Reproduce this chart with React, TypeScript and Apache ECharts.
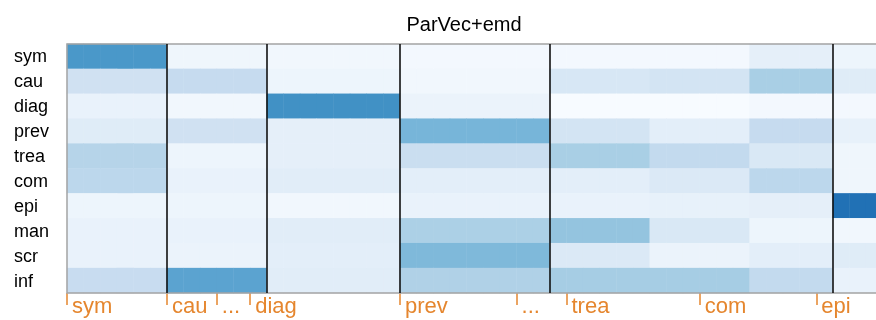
import React, { useEffect, useRef } from 'react';
import * as echarts from 'echarts';

const chartTitle = 'ParVec+emd';
const rowNames = ['sym', 'cau', 'diag', 'prev', 'trea', 'com', 'epi', 'man', 'scr', 'inf'];
// number of columns in each block (sym, cau, diag, prev, trea-a, trea-b, trea-c, epi)
const blockWidths = [6, 6, 8, 9, 6, 6, 5, 6];
// block values per row
const symValues = [0.6, 0.04, 0.03, 0.02, 0.02, 0.02, 0.09, 0.05];
const cauValues = [0.2, 0.25, 0.05, 0.03, 0.16, 0.18, 0.34, 0.12];
const diagValues = [0.07, 0.03, 0.63, 0.06, 0.0, 0.0, 0.02, 0.02];
const prevValues = [0.12, 0.2, 0.09, 0.47, 0.18, 0.1, 0.25, 0.08];
const treaValues = [0.3, 0.05, 0.09, 0.23, 0.34, 0.26, 0.15, 0.04];
const comValues = [0.28, 0.07, 0.11, 0.1, 0.1, 0.14, 0.28, 0.04];
const epiValues = [0.05, 0.05, 0.03, 0.07, 0.07, 0.08, 0.09, 0.75];
const manValues = [0.07, 0.07, 0.11, 0.33, 0.4, 0.15, 0.05, 0.03];
const scrValues = [0.07, 0.06, 0.1, 0.45, 0.14, 0.06, 0.1, 0.12];
const infValues = [0.24, 0.55, 0.11, 0.32, 0.35, 0.35, 0.26, 0.07];
const rowValues = [symValues, cauValues, diagValues, prevValues, treaValues, comValues, epiValues, manValues, scrValues, infValues];

const tickPositions = [0, 6, 9, 11, 20, 27, 30, 38, 45];
const tickLabels = ['sym', 'cau', '...', 'diag', 'prev', '...', 'trea', 'com', 'epi'];
const groupBoundaries = [6, 12, 20, 29, 46];

const blues = ['#f7fbff', '#deebf7', '#c6dbef', '#9ecae1', '#6baed6', '#4292c6', '#2171b5', '#08519c', '#08306b'];
const orange = '#e5862e';
const FONT = '"Liberation Sans", Arial, Helvetica, sans-serif';

export default function App() {
  const ref = useRef<HTMLDivElement>(null);
  useEffect(() => {
    if (!ref.current) return;
    const chart = echarts.init(ref.current, undefined, { renderer: 'svg' });
    const totalCols = blockWidths.reduce((a, b) => a + b, 0);
    const cols: string[] = [];
    for (let i = 0; i < totalCols; i++) cols.push(String(i));
    const data: number[][] = [];
    rowValues.forEach((vals, r) => {
      let c = 0;
      blockWidths.forEach((w, b) => {
        for (let k = 0; k < w; k++) {
          data.push([c, r, vals[b]]);
          c++;
        }
      });
    });
    const colWidth = 16.65;
    chart.setOption({
      animation: false,
      title: {
        text: chartTitle,
        left: 459,
        top: 9,
        textAlign: 'center',
        textStyle: { fontSize: 20, fontWeight: 'normal', color: '#000', fontFamily: FONT },
      },
      grid: {
        left: 67,
        top: 44,
        height: 249,
        width: totalCols * colWidth,
        show: true,
        z: 5,
        backgroundColor: 'transparent',
        borderColor: '#a4a4a4',
        borderWidth: 1.5,
      },
      visualMap: {
        show: false,
        min: 0,
        max: 1,
        seriesIndex: 0,
        inRange: { color: blues },
      },
      xAxis: [
        {
          type: 'category',
          data: cols,
          axisLine: { show: false },
          axisTick: { show: false },
          axisLabel: { show: false },
          splitLine: { show: false },
        },
        {
          type: 'value',
          min: 0,
          max: totalCols,
          position: 'bottom',
          axisLine: { show: false },
          splitLine: { show: false },
          axisTick: {
            show: true,
            customValues: tickPositions,
            length: 12,
            lineStyle: { color: orange, width: 1.5 },
          },
          axisLabel: {
            customValues: tickPositions,
            formatter: (v: number) => tickLabels[tickPositions.indexOf(v)] ?? '',
            color: orange,
            fontSize: 22,
            fontFamily: FONT,
            align: 'left',
            margin: 1,
            padding: [0, 0, 0, 5],
          },
        },
      ],
      yAxis: {
        type: 'category',
        data: rowNames,
        inverse: true,
        axisLine: { show: false },
        axisTick: { show: false },
        splitLine: { show: false },
        axisLabel: { align: 'left', margin: 53, fontSize: 18, color: '#000', fontFamily: FONT },
      },
      series: [
        {
          type: 'heatmap',
          xAxisIndex: 0,
          yAxisIndex: 0,
          data,
          emphasis: { disabled: true },
          itemStyle: { borderWidth: 0 },
        },
        {
          type: 'line',
          xAxisIndex: 1,
          yAxisIndex: 0,
          data: [],
          silent: true,
          markLine: {
            silent: true,
            symbol: ['none', 'none'],
            label: { show: false },
            lineStyle: { color: '#111', width: 1.6, type: 'solid' },
            emphasis: { disabled: true },
            data: groupBoundaries.map((v) => ({ xAxis: v })),
          },
        },
      ],
    });
    return () => chart.dispose();
  }, []);
  return <div ref={ref} style={{ position: 'fixed', left: 0, top: 0, width: 960, height: 320 }} />;
}
